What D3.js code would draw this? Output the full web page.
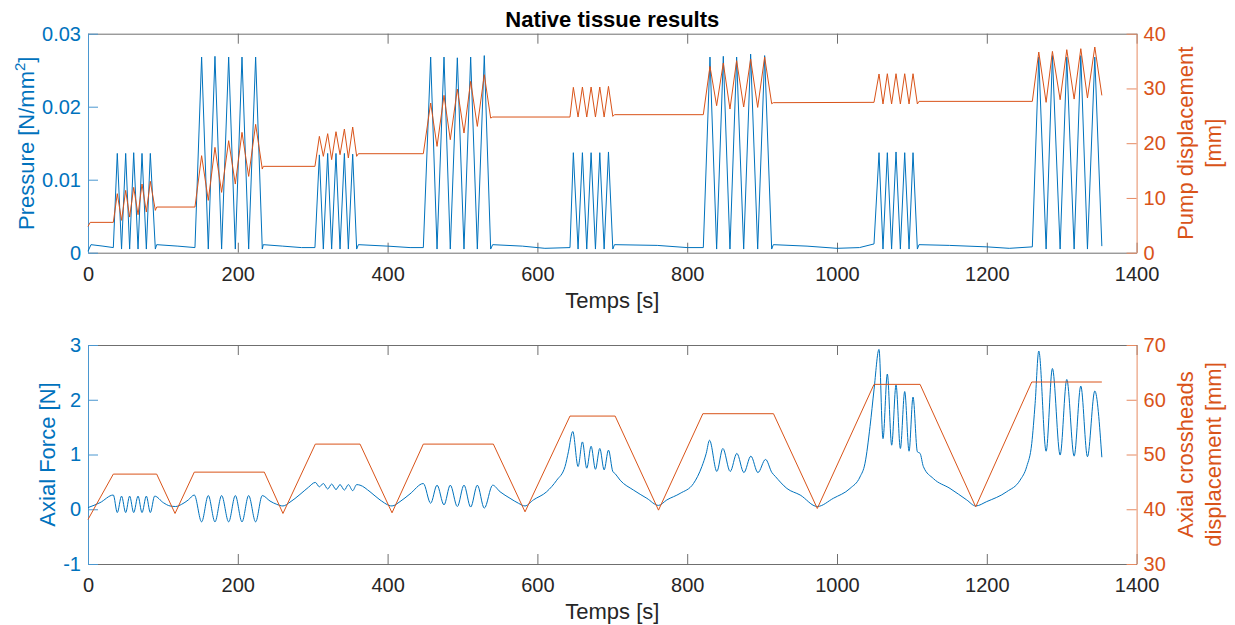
<!DOCTYPE html>
<html>
<head>
<meta charset="utf-8">
<script src="https://cdn.jsdelivr.net/npm/d3@7"></script>
<style>
  body { margin: 0; background: #fff; }
  svg { display: block; font-family: Arial, "Liberation Sans", Helvetica, sans-serif; }
</style>
</head>
<body>
<div class="chart"></div>
<script>
// Tick values
const xTicks = [0, 200, 400, 600, 800, 1000, 1200, 1400];
const pressureTicks = [0, 0.01, 0.02, 0.03];
const pumpTicks = [0, 10, 20, 30, 40];
const forceTicks = [-1, 0, 1, 2, 3];
const crossTicks = [30, 40, 50, 60, 70];

// Pressure [N/mm2] vs time [s]
const pressure = [
  [0, 0.0002], [4, 0.0011], [20, 0.0009], [33.8, 0.0007],
  [39.1, 0.0136], [44.8, 0.0005], [50.3, 0.0136], [55.6, 0.0005], [61, 0.0137], [66.8, 0.0005],
  [72.1, 0.0136], [77.9, 0.0005], [83.2, 0.0136], [89.9, 0.0005], [91.7, 0.0011], [120, 0.0009], [142.8, 0.0007],
  [151.7, 0.0268], [160.6, 0.0005], [169.5, 0.0269], [178.4, 0.0005], [187.8, 0.0268], [196.7, 0.0005],
  [205.6, 0.0268], [214.5, 0.0005], [223.8, 0.0268], [232.7, 0.0005], [234, 0.0011], [260, 0.0009], [285, 0.0007], [303, 0.0007],
  [308.9, 0.0134], [314.2, 0.0005], [320, 0.0136], [325.3, 0.0005], [331.1, 0.0136], [336.5, 0.0005],
  [342.3, 0.0136], [347.6, 0.0005], [353.4, 0.0135], [358.7, 0.0005], [361, 0.0011], [400, 0.0009], [430, 0.0007], [447.7, 0.0007],
  [457.5, 0.0268], [466, 0.0005], [475.3, 0.0268], [483.7, 0.0005], [493.1, 0.0267], [502, 0.0005],
  [510.9, 0.0268], [519.8, 0.0005], [529.1, 0.0270], [537.6, 0.0005], [540.3, 0.0011], [580, 0.0009], [610, 0.0006], [643.5, 0.0007],
  [648, 0.0137], [654.3, 0.0005], [660.1, 0.0137], [665.9, 0.0005], [671.7, 0.0137], [677.5, 0.0005],
  [683.3, 0.0137], [689.1, 0.0005], [694.9, 0.0138], [700.7, 0.0005], [702.9, 0.0011], [760, 0.0010], [800, 0.0007], [821.5, 0.0007],
  [830.4, 0.0268], [839.3, 0.0005], [848.2, 0.0269], [857.1, 0.0005], [866, 0.0268], [875.4, 0.0005],
  [884.7, 0.0272], [894.1, 0.0005], [903.4, 0.0270], [912.8, 0.0005], [915, 0.0011], [960, 0.0009], [1000, 0.0006], [1030, 0.0007], [1049.4, 0.0012],
  [1056.1, 0.0137], [1061.4, 0.0005], [1067.2, 0.0137], [1072.9, 0.0005], [1078.8, 0.0138], [1084.6, 0.0005],
  [1090.4, 0.0137], [1096.2, 0.0005], [1101.5, 0.0137], [1107.3, 0.0005], [1109.5, 0.0011], [1150, 0.0010], [1200, 0.0008], [1230, 0.0006], [1260.8, 0.0008],
  [1269.4, 0.0268], [1279.2, 0.0005], [1287.6, 0.0270], [1297.9, 0.0005], [1306.8, 0.0268], [1316.6, 0.0005],
  [1325.5, 0.0270], [1334.4, 0.0005], [1344.2, 0.0268], [1353.6, 0.0009]
];

// Pump displacement [mm] vs time [s]
const pump = [
  [0, 4.8], [3, 5.54], [33.8, 5.54],
  [39.1, 10.78], [44.8, 5.91], [50.3, 11.38], [55.6, 6.51], [61, 11.93], [66.8, 6.94], [72.1, 12.54], [77.9, 7.43],
  [83.2, 13.03], [89.9, 7.73], [91.7, 8.34], [142.8, 8.34],
  [151.7, 17.72], [160.6, 9.56], [169.5, 19.24], [178.4, 11.02], [187.8, 20.46], [196.7, 12.54], [205.6, 21.98],
  [214.5, 13.94], [223.8, 23.44], [232.7, 15.28], [234, 15.77], [303, 15.77],
  [308.9, 21.25], [314.2, 17.6], [320, 21.74], [325.3, 17.0], [331.1, 22.10], [336.5, 17.9], [342.3, 22.58],
  [347.6, 17.3], [353.4, 22.95], [358.7, 17.6], [361, 18.08], [447.7, 18.08],
  [457.5, 27.34], [466, 19.42], [475.3, 28.74], [483.7, 20.64], [493.1, 29.89], [502, 21.86], [510.9, 31.29],
  [519.8, 23.07], [529.1, 32.51], [537.6, 24.59], [540.3, 24.78], [643.5, 24.78],
  [648, 30.2], [654.3, 24.78], [660.1, 30.26], [665.9, 24.78], [671.7, 30.26], [677.5, 24.78], [683.3, 30.26],
  [689.1, 24.78], [694.9, 30.38], [700.7, 24.9], [702.9, 25.21], [821.5, 25.21],
  [830.4, 34.03], [839.3, 26.85], [848.2, 34.64], [857.1, 26.24], [866, 35.07], [875.4, 26.61], [884.7, 35.38],
  [894.1, 26.54], [903.4, 35.74], [912.8, 27.21], [915, 27.4], [1049.4, 27.46],
  [1056.1, 32.64], [1061.4, 27.16], [1067.2, 32.69], [1072.9, 27.16], [1078.8, 32.69], [1084.6, 27.16], [1090.4, 32.69],
  [1096.2, 27.16], [1101.5, 32.69], [1107.3, 27.16], [1109.5, 27.64], [1260.8, 27.64],
  [1269.4, 36.65], [1279.2, 27.46], [1287.6, 36.77], [1297.9, 27.94], [1306.8, 37.08], [1316.6, 28.06],
  [1325.5, 37.26], [1334.4, 28.25], [1344.2, 37.57], [1353.6, 28.73]
];

// Axial force [N] vs time [s]
const force = [
  [0, 0.03], [16, 0.12], [33.8, 0.26],
  [39.1, -0.06], [44.8, 0.24], [50.3, -0.06], [55.6, 0.24], [61, -0.06], [66.8, 0.24], [72.1, -0.06], [77.9, 0.24],
  [83.2, -0.06], [89, 0.24],
  [100.6, 0.12], [109.5, 0.06], [117, 0.05], [125, 0.09], [133.9, 0.17], [141.9, 0.26],
  [151.7, -0.23], [160.6, 0.25], [169.5, -0.23], [178.4, 0.25], [187.8, -0.23], [196.7, 0.25], [205.6, -0.23],
  [214.5, 0.25], [223.8, -0.23], [232.7, 0.25],
  [243, 0.15], [251.9, 0.09], [260.3, 0.06], [269.7, 0.13], [283, 0.27], [294.2, 0.40], [303.5, 0.49],
  [308.9, 0.41], [314.2, 0.47], [320, 0.37], [325.3, 0.46], [331.1, 0.36], [336.5, 0.45], [342.3, 0.35],
  [347.6, 0.45], [353.4, 0.34], [358.7, 0.45], [363.2, 0.44],
  [376.5, 0.32], [389.9, 0.17], [405.9, 0.06], [416.6, 0.14], [429.9, 0.28], [447.7, 0.47],
  [457.5, 0.11], [466, 0.44], [475.3, 0.08], [483.7, 0.44], [493.1, 0.05], [502, 0.44], [510.9, 0.04],
  [519.8, 0.44], [529.1, 0.02], [540.3, 0.44],
  [550.1, 0.32], [563.5, 0.20], [574.6, 0.11], [583.5, 0.06], [594.6, 0.17], [612.4, 0.32], [625.8, 0.53],
  [636.9, 0.78], [641.4, 1.05],
  [647.2, 1.42], [654.3, 0.78], [660.1, 1.23], [665.9, 0.75], [671.7, 1.15], [677.5, 0.73], [683.3, 1.11],
  [689.1, 0.72], [694.9, 1.08], [700.7, 0.69], [703.8, 0.65],
  [710.5, 0.53], [728.3, 0.35], [746.1, 0.20], [761.7, 0.07], [772.8, 0.17], [790.6, 0.29], [808.4, 0.47],
  [819.6, 0.78], [825.4, 1.02],
  [829.8, 1.26], [839.6, 0.69], [847.6, 1.11], [857.4, 0.69], [866.3, 1.02], [875.7, 0.67], [885, 0.97],
  [894.4, 0.67], [904.6, 0.91], [913.1, 0.67], [917.6, 0.60],
  [933.1, 0.38], [950.8, 0.26], [973.7, 0.05],
  [995.1, 0.20], [1017.4, 0.38], [1030.7, 0.59], [1037.4, 0.84], [1044.1, 1.51], [1049.4, 2.18],
  [1056.1, 2.92], [1061.4, 1.29], [1067.2, 2.47], [1073, 1.17], [1078.8, 2.27], [1084.6, 1.11], [1090.4, 2.15],
  [1096.2, 1.06], [1101.5, 2.05], [1107.3, 1.05], [1110.9, 1.02],
  [1115.3, 0.78], [1128.7, 0.56], [1150.9, 0.38], [1173.2, 0.17], [1185.2, 0.06],
  [1199.9, 0.14], [1226.6, 0.32], [1244.4, 0.53], [1253.3, 0.78], [1260, 1.20], [1264.5, 1.93],
  [1269.4, 2.89], [1279.2, 1.06], [1287.6, 2.57], [1297.9, 0.99], [1306.8, 2.37], [1316.6, 0.97],
  [1325.5, 2.25], [1334.4, 0.96], [1344.2, 2.16], [1353.6, 0.95]
];

// Axial crossheads displacement [mm] vs time [s]
const crosshead = [
  [0, 38.13], [33.8, 46.42], [91.7, 46.42], [116.2, 39.23], [141.9, 46.78], [235.4, 46.78],
  [260.3, 39.23], [303.5, 51.9], [363.2, 51.9], [405.9, 39.35], [447.7, 51.9], [541.2, 51.9],
  [583.5, 39.53], [643.5, 57.02], [703.8, 57.02], [761.7, 39.84], [820.9, 57.45], [915.2, 57.45],
  [973.7, 40.14], [1049.4, 62.81], [1110.9, 62.81], [1185.2, 40.44], [1260, 63.24], [1353.6, 63.24]
];

const blue = "#0072BD";
const orange = "#D95319";
const dark = "#262626";
const tickFont = 20;
const labelFont = 22;

const svg = d3.select(".chart")
  .append("svg")
  .attr("width", 1235)
  .attr("height", 625);

const plotLeft = 88, plotRight = 1136.6, plotH = 219;

const x = d3.scaleLinear().domain([0, 1400]).range([plotLeft, plotRight]);

function styleAxis(g, color, anchor) {
  g.selectAll(".domain").attr("stroke", color).attr("stroke-width", 1);
  g.selectAll(".tick line").attr("stroke", color).attr("stroke-width", 1);
  g.selectAll(".tick text")
    .attr("fill", color)
    .style("font-size", tickFont + "px")
    .style("font-family", "Arial, 'Liberation Sans', Helvetica, sans-serif");
  if (anchor) g.selectAll(".tick text").attr("text-anchor", anchor);
}

function drawPanel(opt) {
  const top = opt.top, bottom = opt.top + plotH;
  const yL = d3.scaleLinear().domain(opt.leftDomain).range([bottom, top]);
  const yR = d3.scaleLinear().domain(opt.rightDomain).range([bottom, top]);

  // x axes (bottom with labels, top without)
  const gb = svg.append("g").attr("transform", `translate(0,${bottom})`)
    .call(d3.axisBottom(x).tickValues(xTicks).tickSize(-10).tickSizeOuter(0).tickPadding(14).tickFormat(d3.format("d")));
  styleAxis(gb, dark);
  gb.selectAll(".domain, .tick line").attr("stroke", "#6f6f6f");
  gb.selectAll(".tick text").attr("fill", dark);

  const gt = svg.append("g").attr("transform", `translate(0,${top})`)
    .call(d3.axisTop(x).tickValues(xTicks).tickSize(-10).tickSizeOuter(0).tickFormat(""));
  styleAxis(gt, "#6f6f6f");

  // left y axis
  const gl = svg.append("g").attr("transform", `translate(${plotLeft},0)`)
    .call(d3.axisLeft(yL).tickValues(opt.leftTicks).tickSize(-10).tickSizeOuter(0).tickPadding(7).tickFormat(opt.leftFmt));
  styleAxis(gl, blue);
  gl.selectAll(".domain, .tick line").attr("stroke", "#4a97d0");

  // right y axis
  const gr = svg.append("g").attr("transform", `translate(${plotRight},0)`)
    .call(d3.axisRight(yR).tickValues(opt.rightTicks).tickSize(-10).tickSizeOuter(0).tickPadding(7).tickFormat(d3.format("d")));
  styleAxis(gr, orange);
  gr.selectAll(".domain, .tick line").attr("stroke", "#e68a62");

  // series
  svg.append("path")
    .datum(opt.leftSeries)
    .attr("fill", "none")
    .attr("stroke", blue)
    .attr("stroke-width", 1)
    .attr("d", d3.line().x(d => x(d[0])).y(d => yL(d[1])).curve(opt.leftCurve));

  svg.append("path")
    .datum(opt.rightSeries)
    .attr("fill", "none")
    .attr("stroke", orange)
    .attr("stroke-width", 1)
    .attr("d", d3.line().x(d => x(d[0])).y(d => yR(d[1])));

  // x label
  svg.append("text")
    .attr("x", (plotLeft + plotRight) / 2)
    .attr("y", bottom + 55)
    .attr("text-anchor", "middle")
    .attr("fill", dark)
    .style("font-size", labelFont + "px")
    .text("Temps [s]");

  // left y label
  const ly = svg.append("text")
    .attr("transform", `translate(${opt.leftLabelX},${top + plotH / 2}) rotate(-90)`)
    .attr("text-anchor", "middle")
    .attr("fill", blue)
    .style("font-size", labelFont + "px");
  opt.leftLabel(ly);

  // right y label (two lines)
  opt.rightLabel.forEach((t, i) => {
    svg.append("text")
      .attr("transform", `translate(${1193 + i * 28},${top + plotH / 2}) rotate(-90)`)
      .attr("text-anchor", "middle")
      .attr("fill", orange)
      .style("font-size", labelFont + "px")
      .text(t);
  });
}

drawPanel({
  top: 33.7,
  leftDomain: [0, 0.03], rightDomain: [0, 40],
  leftTicks: pressureTicks, rightTicks: pumpTicks,
  leftFmt: d => d === 0 ? "0" : d3.format(".2f")(d),
  leftSeries: pressure, rightSeries: pump,
  leftCurve: d3.curveLinear,
  leftLabelX: 34,
  leftLabel: t => {
    t.append("tspan").text("Pressure [N/mm");
    t.append("tspan").attr("dy", -9).style("font-size", "15px").text("2");
    t.append("tspan").attr("dy", 9).text("]");
  },
  rightLabel: ["Pump displacement", "[mm]"]
});

drawPanel({
  top: 345,
  leftDomain: [-1, 3], rightDomain: [30, 70],
  leftTicks: forceTicks, rightTicks: crossTicks,
  leftFmt: d => String(d),
  leftSeries: force, rightSeries: crosshead,
  leftCurve: d3.curveMonotoneX,
  leftLabelX: 55,
  leftLabel: t => t.text("Axial Force [N]"),
  rightLabel: ["Axial crossheads", "displacement [mm]"]
});

// Title
svg.append("text")
  .attr("x", (plotLeft + plotRight) / 2)
  .attr("y", 27)
  .attr("text-anchor", "middle")
  .attr("fill", "#000")
  .style("font-size", "22px")
  .style("font-weight", "bold")
  .text("Native tissue results");
</script>
</body>
</html>
